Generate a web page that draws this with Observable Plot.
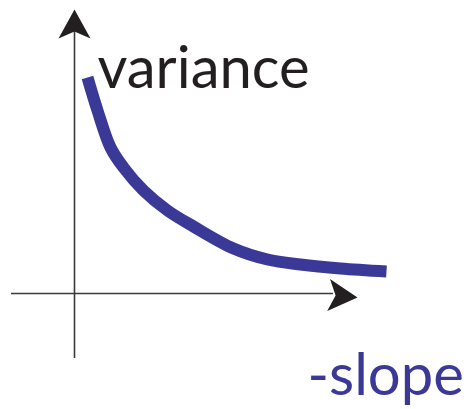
<!DOCTYPE html>
<html>
<head>
<meta charset="utf-8">
<script src="https://cdn.jsdelivr.net/npm/d3@7"></script>
<script src="https://cdn.jsdelivr.net/npm/@observablehq/plot@0.6"></script>
<style>
  html, body { margin: 0; padding: 0; background: #fff; }
  #chart svg { display: block; }
</style>
</head>
<body>
<div id="chart"></div>
<script>
// Curve: -slope (x) vs variance (y), in arbitrary units
const slope    = [1.3, 2.3, 3.6, 4.9, 6.9, 9.3, 11.9, 15.9, 19.3, 22.6, 26.6, 31.2];
const variance = [21.6, 18.3, 14.6, 12.6, 10.3, 8.3, 6.7, 4.5, 3.4, 2.9, 2.5, 2.2];

// Axis extents
const xAxisExtent = [-6.3, 25.9];
const yAxisExtent = [-6.5, 26.3];

// Arrowhead tips
const arrowX = [0, 28.3];
const arrowY = [28.4, -0.4];
const arrowRotate = [0, 95];

// Labels
const labelText = ["variance", "-slope"];
const labelX = [2.3, 23.3];
const labelY = [20.6, -10.1];

const curve = slope.map((s, i) => ({slope: s, variance: variance[i]}));
const arrows = arrowX.map((x, i) => ({x, y: arrowY[i], rotate: arrowRotate[i]}));
const labels = labelText.map((t, i) => ({text: t, x: labelX[i], y: labelY[i]}));

// Stealth-style arrowhead symbol, tip at origin, pointing up
const stealth = {
  draw(context, size) {
    const k = Math.sqrt(size / Math.PI) / 10;
    context.moveTo(0, 0);
    context.lineTo(16 * k, 29 * k);
    context.lineTo(0, 22 * k);
    context.lineTo(-16 * k, 29 * k);
    context.closePath();
  }
};

const blue = "#3b3997";
const ink = "#231f20";

const chart = Plot.plot({
  width: 468,
  height: 409,
  margin: 0,
  style: {background: "#fff", overflow: "visible"},
  x: {domain: [-7.4, 39.4], axis: null},
  y: {domain: [-11.6, 29.3], axis: null},
  marks: [
    Plot.ruleY([0], {x1: xAxisExtent[0], x2: xAxisExtent[1], stroke: "#3a3a3a", strokeWidth: 1.6}),
    Plot.ruleX([0], {y1: yAxisExtent[0], y2: yAxisExtent[1], stroke: "#3a3a3a", strokeWidth: 1.6}),
    Plot.dot(arrows, {x: "x", y: "y", rotate: "rotate", symbol: stealth, r: 10, fill: ink, stroke: "none"}),
    Plot.line(curve, {x: "slope", y: "variance", curve: "catmull-rom", stroke: blue, strokeWidth: 12, strokeLinecap: "butt"}),
    Plot.text([labels[0]], {x: "x", y: "y", text: "text", textAnchor: "start", lineAnchor: "bottom", fontSize: 58, fontFamily: "Lato", fill: ink}),
    Plot.text([labels[1]], {x: "x", y: "y", text: "text", textAnchor: "start", lineAnchor: "bottom", fontSize: 58, fontFamily: "Lato", fill: blue})
  ]
});
document.getElementById("chart").append(chart);
</script>
</body>
</html>
